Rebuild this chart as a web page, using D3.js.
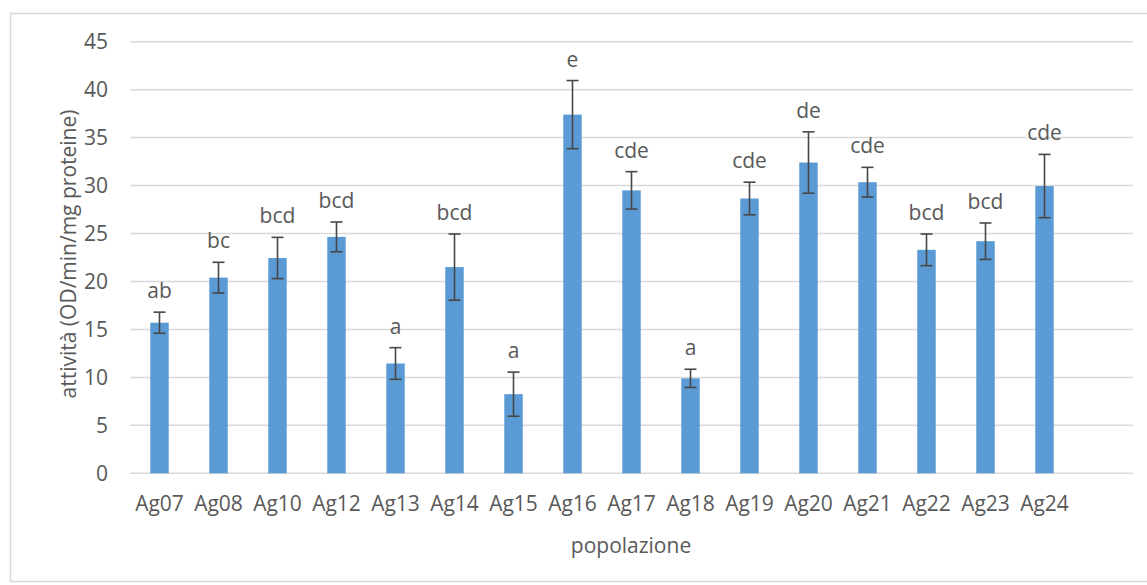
<!DOCTYPE html>
<html>
<head>
<meta charset="utf-8">
<script src="https://cdn.jsdelivr.net/npm/d3@7"></script>
<style>
  html, body { margin: 0; padding: 0; background: #fff; }
  svg { display: block; }
  text { font-family: "Open Sans", "DejaVu Sans", sans-serif; fill: #595959; }
</style>
</head>
<body>
<svg id="chart" width="1147" height="585"></svg>
<script>
// Populations (the last slot of the category axis is left empty)
const categories = ["Ag07","Ag08","Ag10","Ag12","Ag13","Ag14","Ag15","Ag16",
                    "Ag17","Ag18","Ag19","Ag20","Ag21","Ag22","Ag23","Ag24",""];
// Mean activity (OD/min/mg proteine)
const activity = [15.7, 20.4, 22.45, 24.65, 11.45, 21.5, 8.25, 37.4,
                  29.5, 9.9, 28.65, 32.4, 30.35, 23.3, 24.2, 29.95];
// Error bar half-widths
const errors = [1.1, 1.6, 2.15, 1.55, 1.65, 3.45, 2.3, 3.55,
                1.95, 0.95, 1.7, 3.2, 1.55, 1.65, 1.9, 3.3];
// Significance letters
const letters = ["ab","bc","bcd","bcd","a","bcd","a","e",
                 "cde","a","cde","de","cde","bcd","bcd","cde"];
const yTicks = [0, 5, 10, 15, 20, 25, 30, 35, 40, 45];

const FONT = "21px";
const svg = d3.select("#chart");

// outer chart frame
svg.append("rect")
  .attr("x", 10.5).attr("y", 13.5)
  .attr("width", 1145).attr("height", 568)
  .attr("fill", "none").attr("stroke", "#d9d9d9").attr("stroke-width", 1.5);

const plot = { left: 130, right: 1133, top: 41.7, bottom: 473.3 };

const x = d3.scaleBand()
  .domain(categories.map((c, i) => i))
  .range([plot.left, plot.right])
  .paddingInner(0).paddingOuter(0);

const y = d3.scaleLinear().domain([0, 45]).range([plot.bottom, plot.top]);

// horizontal gridlines
svg.append("g")
  .selectAll("line")
  .data(yTicks)
  .join("line")
  .attr("x1", plot.left).attr("x2", plot.right)
  .attr("y1", d => y(d)).attr("y2", d => y(d))
  .attr("stroke", "#d9d9d9").attr("stroke-width", 1.5);

// y axis tick labels
const yAxis = d3.axisLeft(y).tickValues(yTicks).tickSize(0).tickPadding(0);
const gy = svg.append("g").attr("transform", `translate(${plot.left - 22},0)`).call(yAxis);
gy.select(".domain").remove();
gy.selectAll("text")
  .style("font-size", FONT)
  .attr("fill", "#595959")
  .style("font-family", '"Open Sans", sans-serif');

// x axis category labels
const xAxis = d3.axisBottom(x).tickFormat(i => categories[i]).tickSize(0).tickPadding(0);
const gx = svg.append("g").attr("transform", `translate(0,${plot.bottom + 23})`).call(xAxis);
gx.select(".domain").remove();
gx.selectAll("text")
  .style("font-size", FONT)
  .attr("fill", "#595959")
  .style("font-family", '"Open Sans", sans-serif');

const barW = x.bandwidth() * 0.313;
const cx = i => x(i) + x.bandwidth() / 2;

// bars
svg.append("g")
  .selectAll("rect")
  .data(activity)
  .join("rect")
  .attr("x", (d, i) => cx(i) - barW / 2)
  .attr("width", barW)
  .attr("y", d => y(d))
  .attr("height", d => y(0) - y(d))
  .attr("fill", "#5b9bd5");

// error bars
const eb = svg.append("g").attr("stroke", "#474747").attr("stroke-width", 1.6);
activity.forEach((v, i) => {
  const hi = y(v + errors[i]), lo = y(v - errors[i]), c = cx(i);
  eb.append("line").attr("x1", c).attr("x2", c).attr("y1", hi).attr("y2", lo);
  eb.append("line").attr("x1", c - 6).attr("x2", c + 6).attr("y1", hi).attr("y2", hi);
  eb.append("line").attr("x1", c - 6).attr("x2", c + 6).attr("y1", lo).attr("y2", lo);
});

// significance letters above error bars
svg.append("g")
  .selectAll("text")
  .data(letters)
  .join("text")
  .attr("x", (d, i) => cx(i))
  .attr("y", (d, i) => y(activity[i] + errors[i]) - 14)
  .attr("text-anchor", "middle")
  .style("font-size", FONT)
  .text(d => d);

// axis titles
svg.append("text")
  .attr("x", 631).attr("y", 553)
  .attr("text-anchor", "middle")
  .style("font-size", FONT)
  .text("popolazione");

svg.append("text")
  .attr("transform", "translate(76,254) rotate(-90)")
  .attr("text-anchor", "middle")
  .style("font-size", FONT)
  .text("attività (OD/min/mg proteine)");
</script>
</body>
</html>
